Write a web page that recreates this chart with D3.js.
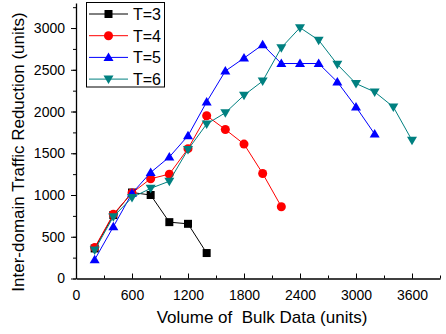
<!DOCTYPE html>
<html>
<head>
<meta charset="utf-8">
<script src="https://cdn.jsdelivr.net/npm/d3@7"></script>
<style>
  body { margin: 0; background: #fff; }
  svg { display: block; font-family: "Liberation Sans", Arial, sans-serif; }
</style>
</head>
<body>
<div id="chart"></div>
<script>
// data
const volumes = [200, 400, 600, 800, 1000, 1200, 1400, 1600, 1800, 2000, 2200, 2400, 2600, 2800, 3000, 3200, 3400, 3600];
const t3 = [360, 760, 1030, 1000, 675, 655, 305];
const t4 = [370, 770, 1025, 1195, 1250, 1555, 1950, 1785, 1610, 1258, 860];
const t5 = [225, 620, 1020, 1270, 1455, 1710, 2115, 2485, 2640, 2800, 2575, 2575, 2575, 2355, 2055, 1730];
const t6 = [340, 740, 970, 1080, 1165, 1545, 1850, 1985, 2195, 2365, 2765, 3005, 2855, 2565, 2335, 2235, 2055, 1655];
const seriesNames = ["T=3", "T=4", "T=5", "T=6"];
const xTicks = [0, 600, 1200, 1800, 2400, 3000, 3600];
const yTicks = [0, 500, 1000, 1500, 2000, 2500, 3000];

const width = 446, height = 334;
const margin = {top: 3, right: 6, bottom: 55.5, left: 76};

const svg = d3.select("#chart").append("svg")
    .attr("width", width)
    .attr("height", height);

let x = d3.scaleLinear()
  .domain([0, 3900])
  .range([margin.left, width - margin.right]);

let y = d3.scaleLinear()
  .domain([0, 3300])
  .range([height - margin.bottom, margin.top]);

const series = [
  {name: seriesNames[0], values: t3, color: "#000000", marker: "square"},
  {name: seriesNames[1], values: t4, color: "#ff0000", marker: "circle"},
  {name: seriesNames[2], values: t5, color: "#0000ff", marker: "triangle"},
  {name: seriesNames[3], values: t6, color: "#008080", marker: "down"}
];

function markerPath(type) {
  if (type === "square") return "M-4,-4H4V4H-4Z";
  if (type === "circle") return d3.symbol(d3.symbolCircle, 64)();
  if (type === "triangle") return "M0,-5L5,3.5L-5,3.5Z";
  return "M0,5L5,-3.5L-5,-3.5Z";
}

const fmt = d3.format("d");

// x axis: ticks point inward (up)
const gx = svg.append("g").attr("transform", `translate(0,${y(0)})`);
gx.call(d3.axisBottom(x).tickValues(d3.range(0, 3901, 300)).tickSize(-3).tickFormat(""))
  .call(g => g.select(".domain").remove());
gx.append("g").call(d3.axisBottom(x).tickValues(xTicks).tickSize(-5).tickPadding(12).tickSizeOuter(0).tickFormat(fmt))
  .call(g => g.selectAll("text").attr("font-size", 14).attr("font-family", null).attr("fill", "#000"))
  .call(g => g.select(".domain").attr("stroke-width", 1.3));

// y axis: ticks point outward (left)
const gy = svg.append("g").attr("transform", `translate(${x(0)},0)`);
gy.call(d3.axisLeft(y).tickValues(d3.range(0, 3301, 250)).tickSize(3).tickFormat(""))
  .call(g => g.select(".domain").remove());
gy.append("g").call(d3.axisLeft(y).tickValues(yTicks).tickSize(5).tickPadding(6).tickSizeOuter(0).tickFormat(fmt))
  .call(g => g.selectAll("text").attr("font-size", 14).attr("font-family", null).attr("fill", "#000"))
  .call(g => g.select(".domain").attr("stroke-width", 1.3));

const line = d3.line()
  .x((d, i) => x(volumes[i]))
  .y(d => y(d));

series.forEach(s => {
  svg.append("path")
    .datum(s.values)
    .attr("fill", "none")
    .attr("stroke", s.color)
    .attr("stroke-width", 1)
    .attr("d", line);

  svg.append("g")
    .selectAll("path")
    .data(s.values)
    .join("path")
      .attr("transform", (d, i) => `translate(${x(volumes[i])},${y(d)})`)
      .attr("d", markerPath(s.marker))
      .attr("fill", s.color);
});

// axis titles
svg.append("text")
  .attr("x", 262)
  .attr("y", 323)
  .attr("text-anchor", "middle")
  .attr("font-size", 17)
  .style("white-space", "pre")
  .text("Volume of  Bulk Data (units)");

svg.append("text")
  .attr("transform", "translate(24,152) rotate(-90)")
  .attr("text-anchor", "middle")
  .attr("font-size", 17)
  .text("Inter-domain Traffic Reduction (units)");

// legend
const legend = svg.append("g");
legend.append("rect")
  .attr("x", 86.5).attr("y", 2.5)
  .attr("width", 78).attr("height", 84.5)
  .attr("fill", "#fff").attr("stroke", "#000");

series.forEach((s, i) => {
  const ly = 14 + i * 21.7;
  legend.append("line")
    .attr("x1", 89).attr("x2", 128)
    .attr("y1", ly).attr("y2", ly)
    .attr("stroke", s.color);
  legend.append("path")
    .attr("transform", `translate(108.5,${ly})`)
    .attr("d", markerPath(s.marker))
    .attr("fill", s.color);
  legend.append("text")
    .attr("x", 133).attr("y", ly + 5.8)
    .attr("font-size", 16)
    .text(s.name);
});
</script>
</body>
</html>
